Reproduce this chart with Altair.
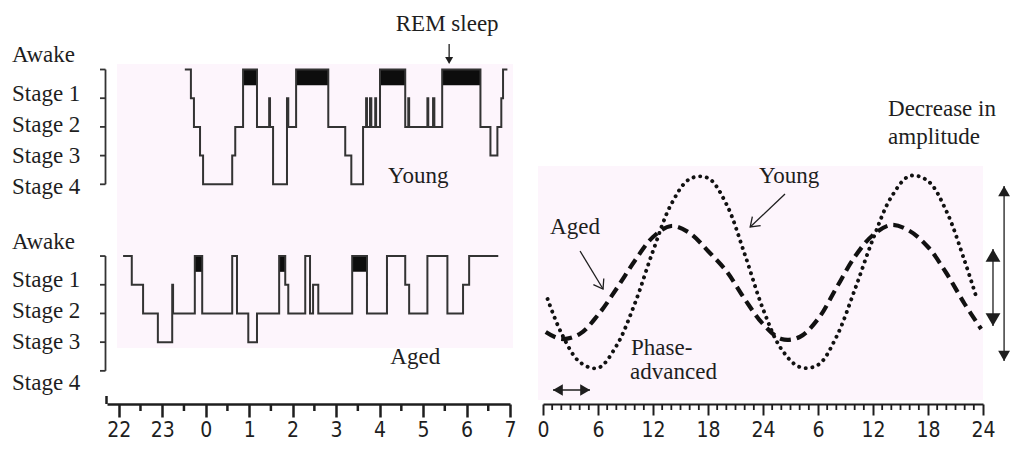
import altair as alt
import pandas as pd

SERIF = "Liberation Serif, Times New Roman, serif"
SANS = "Liberation Sans Narrow, Arial Narrow, DejaVu Sans Condensed, sans-serif"
INK = "#1e1e1e"
PINK = "#fdf5fc"

# ---------------- hypnograms: hours after midnight, stage 0 = Awake ... 4 = Stage 4
stage_names = ["Awake", "Stage 1", "Stage 2", "Stage 3", "Stage 4"]
stage_levels = [0, 1, 2, 3, 4]

young_t = [-0.48, -0.34, -0.27, -0.13, -0.06, 0.61, 0.68, 0.86, 1.18, 1.46, 1.48, 1.55,
           1.87, 1.90, 2.08, 2.82, 3.21, 3.35, 3.62, 3.69, 3.71, 3.78, 3.81, 3.90, 3.92,
           4.01, 4.59, 4.66, 4.68, 5.10, 5.12, 5.23, 5.26, 5.44, 6.32, 6.55, 6.71, 6.80,
           6.84, 6.94]
young_stage = [0, 1, 2, 3, 4, 3, 2, 0, 2, 1, 2, 4, 1, 2, 0, 2, 3, 4, 2, 1, 2, 1, 2, 1, 2,
               0, 2, 1, 2, 1, 2, 1, 2, 0, 2, 3, 2, 1, 0, 0]

aged_t = [-1.90, -1.70, -1.44, -1.10, -0.77, -0.75, -0.25, -0.08, 0.61, 0.72, 0.98, 1.18,
          1.69, 1.83, 1.90, 2.29, 2.40, 2.47, 2.59, 3.37, 3.71, 4.17, 4.59, 4.68, 5.10,
          5.56, 5.92, 6.06, 6.73]
aged_stage = [0, 1, 2, 3, 1, 2, 0, 2, 0, 2, 3, 2, 0, 1, 2, 0, 2, 1, 2, 0, 2, 0, 1, 2, 0,
              2, 1, 0, 0]

young_rem_start = [0.86, 2.08, 4.01, 5.44]
young_rem_end = [1.18, 2.82, 4.59, 6.32]
aged_rem_start = [-0.25, 1.69, 3.37]
aged_rem_end = [-0.08, 1.83, 3.71]

left_major_ticks = [-2, -1, 0, 1, 2, 3, 4, 5, 6, 7]
left_minor_ticks = [-1.5, -0.5, 0.5, 1.5, 2.5, 3.5, 4.5, 5.5, 6.5]

# ---------------- circadian rhythms: hours over two days, relative level
young_h = [0.5, 2, 4, 6, 8, 10, 12, 14, 16, 18, 20, 22, 24, 26, 28, 30, 32, 34, 36, 38,
           40, 42, 44, 46, 47.2]
young_v = [-0.25, -0.59, -0.88, -0.94, -0.72, -0.30, 0.23, 0.70, 0.95, 0.96, 0.70, 0.20,
           -0.35, -0.75, -0.93, -0.91, -0.63, -0.16, 0.35, 0.77, 0.98, 0.93, 0.63, 0.13,
           -0.21]
aged_h = [0.3, 2, 4, 6, 8, 10, 12, 14, 16, 18, 20, 22, 24, 26, 28, 30, 32, 34, 36, 38,
          40, 42, 44, 46, 47.8]
aged_v = [-0.58, -0.65, -0.60, -0.41, -0.15, 0.13, 0.37, 0.48, 0.41, 0.23, 0.03, -0.25,
          -0.50, -0.65, -0.63, -0.45, -0.14, 0.17, 0.39, 0.49, 0.43, 0.27, 0.01, -0.30,
          -0.55]

right_major_ticks = [0, 6, 12, 18, 24, 30, 36, 42, 48]
right_minor_ticks = [h for h in range(49) if h % 6 != 0]

# ---------------- tables
AGED_OFFSET = 6.5  # vertical offset of the aged hypnogram (in stage units)
H = 345

hyp = pd.concat([
    pd.DataFrame({"group": "Young", "t": young_t, "stage": young_stage,
                  "seq": list(range(len(young_t))), "off": 0.0}),
    pd.DataFrame({"group": "Aged", "t": aged_t, "stage": aged_stage,
                  "seq": list(range(len(aged_t))), "off": AGED_OFFSET}),
], ignore_index=True)
hyp["row"] = hyp["stage"] + hyp["off"]

rem = pd.concat([
    pd.DataFrame({"start": young_rem_start, "end": young_rem_end, "off": 0.0}),
    pd.DataFrame({"start": aged_rem_start, "end": aged_rem_end, "off": AGED_OFFSET}),
], ignore_index=True)
rem["top"] = rem["off"]
rem["bottom"] = rem["off"] + 0.55

levels = pd.concat([
    pd.DataFrame({"group": g, "label": stage_names, "stage": stage_levels, "off": o})
    for g, o in [("Young", 0.0), ("Aged", AGED_OFFSET)]
], ignore_index=True)
levels["row"] = levels["stage"] + levels["off"]
levels["label_row"] = [
    o + (-0.5 if s == 0 else s * 1.08 - 0.23) + (0.33 if (g == "Aged" and s == 4) else 0.0)
    for g, s, o in zip(levels["group"], levels["stage"], levels["off"])]
brackets = levels.groupby("group", as_index=False).agg(lo=("row", "min"), hi=("row", "max"))

minor_l = pd.DataFrame({"m": left_minor_ticks})
minor_r = pd.DataFrame({"m": right_minor_ticks})
young_df = pd.DataFrame({"h": young_h, "v": young_v})
aged_df = pd.DataFrame({"h": aged_h, "v": aged_v})

# ---------------- scales & axes (identical on every layer, so they merge cleanly)
XL = alt.Scale(domain=[-2.27, 7.0], nice=False, zero=False)
YL = alt.Scale(domain=[-0.366, 11.655], reverse=True, nice=False, zero=False)
XR = alt.Scale(domain=[0, 48], nice=False, zero=False)
YR = alt.Scale(domain=[-1.30, 2.15], nice=False, zero=False)

AXL = alt.Axis(values=left_major_ticks, orient="bottom",
               labelExpr="datum.value < 0 ? datum.value + 24 : datum.value",
               tickSize=13, tickWidth=2.5, tickColor=INK, domainColor=INK, domainWidth=2.5,
               labelFont=SANS, labelFontSize=21, labelColor=INK, labelPadding=2,
               labelFlush=False, labelOverlap=False, grid=False, title=None)
AXR = alt.Axis(values=right_major_ticks, orient="bottom",
               labelExpr="datum.value > 24 ? datum.value - 24 : datum.value",
               tickSize=11, tickWidth=2, tickColor=INK, domainColor=INK, domainWidth=2,
               labelFont=SANS, labelFontSize=21, labelColor=INK, labelPadding=4,
               labelFlush=False, labelOverlap=False, grid=False, title=None)

PANELS = {"L": (XL, YL, AXL), "R": (XR, YR, AXR)}


def enc_x(p, f):
    return alt.X(f, type="quantitative", scale=PANELS[p][0], axis=PANELS[p][2])


def enc_y(p, f):
    return alt.Y(f, type="quantitative", scale=PANELS[p][1], axis=None)


def text(p, t, x, y, align="center"):
    return alt.Chart(pd.DataFrame({"x": [x], "y": [y]})).mark_text(
        text=t, font=SERIF, fontSize=23, color=INK, align=align, baseline="middle"
    ).encode(x=enc_x(p, "x"), y=enc_y(p, "y"))


def rule(p, x, y, x2, y2, w=1.3):
    return alt.Chart(pd.DataFrame({"x": [x], "y": [y], "x2": [x2], "y2": [y2]})).mark_rule(
        color=INK, strokeWidth=w).encode(
        x=enc_x(p, "x"), y=enc_y(p, "y"), x2="x2:Q", y2="y2:Q")


def head(p, x, y, shape, size, xo=0, yo=0, angle=0, filled=True):
    return alt.Chart(pd.DataFrame({"x": [x], "y": [y]})).mark_point(
        shape=shape, size=size, filled=filled, opacity=1, color=INK, strokeWidth=1.3,
        angle=angle, xOffset=xo, yOffset=yo).encode(x=enc_x(p, "x"), y=enc_y(p, "y"))


def box(p, x, y, x2, y2, color):
    return alt.Chart(pd.DataFrame({"x": [x], "y": [y], "x2": [x2], "y2": [y2]})).mark_rect(
        color=color).encode(x=enc_x(p, "x"), y=enc_y(p, "y"), x2="x2:Q", y2="y2:Q")


# ---------------- left panel: hypnograms
rem_blocks = alt.Chart(rem).mark_rect(color="#0d0d0d").encode(
    x=enc_x("L", "start"), x2="end:Q", y=enc_y("L", "top"), y2="bottom:Q")

hyp_lines = alt.Chart(hyp).mark_line(interpolate="step-after", color="#333333",
                                     strokeWidth=2).encode(
    x=enc_x("L", "t"), y=enc_y("L", "row"), detail="group:N", order="seq:Q")

minor_ticks_l = alt.Chart(minor_l).mark_rule(color=INK, strokeWidth=2.5).encode(
    x=enc_x("L", "m"), y=alt.value(H), y2=alt.value(H + 7))

bracket_v = alt.Chart(brackets).mark_rule(color="#333333", strokeWidth=1.8).encode(
    x=alt.value(-1.5), y=enc_y("L", "lo"), y2="hi:Q")
bracket_t = alt.Chart(levels).mark_rule(color="#333333", strokeWidth=1.8).encode(
    x=alt.value(-7), x2=alt.value(-1.5), y=enc_y("L", "row"))
stage_text = alt.Chart(levels).mark_text(font=SERIF, fontSize=23, color=INK,
                                         align="left", baseline="middle").encode(
    x=alt.value(-95), y=enc_y("L", "label_row"), text="label:N")

cap = alt.Chart(pd.DataFrame({"k": [0]})).mark_rule(color=INK, strokeWidth=2.5).encode(
    x=alt.value(-0.5), y=alt.value(H - 8), y2=alt.value(H))

left = alt.layer(
    box("L", -2.04, -0.19, 7.07, 9.70, PINK),
    rem_blocks, hyp_lines, minor_ticks_l, bracket_v, bracket_t, stage_text, cap,
    text("L", "Young", 4.89, 3.71), text("L", "Aged", 4.82, 10.02),
    text("L", "REM sleep", 5.555, -1.585),
    rule("L", 5.60, -0.89, 5.60, -0.25, 1.3),
    head("L", 5.60, -0.19, "triangle-down", 64, yo=-3.5),
).properties(width=403, height=H)

# ---------------- right panel: circadian rhythms
young_line = alt.Chart(young_df).mark_line(
    interpolate="catmull-rom", color="#111111", strokeWidth=3.9,
    strokeDash=[0.1, 6.6], strokeCap="round").encode(
    x=enc_x("R", "h"), y=enc_y("R", "v"))
aged_line = alt.Chart(aged_df).mark_line(
    interpolate="catmull-rom", color="#111111", strokeWidth=4.2,
    strokeDash=[11, 6]).encode(
    x=enc_x("R", "h"), y=enc_y("R", "v"))

minor_ticks_r = alt.Chart(minor_r).mark_rule(color=INK, strokeWidth=1.8).encode(
    x=enc_x("R", "m"), y=alt.value(H), y2=alt.value(H + 6))

CHEV = "M-1,-0.7L0,0L-1,0.7"
right = alt.layer(
    box("R", -0.55, 1.08, 48.0, -1.26, PINK),
    aged_line, young_line, minor_ticks_r,
    text("R", "Young", 26.84, 0.98), text("R", "Aged", 3.49, 0.47),
    text("R", "Phase-", 9.6, -0.74, "left"), text("R", "advanced", 9.5, -0.98, "left"),
    text("R", "Decrease in", 37.64, 1.65, "left"), text("R", "amplitude", 37.64, 1.37, "left"),
    rule("R", 26.4, 0.80, 22.6, 0.47),
    head("R", 22.6, 0.47, CHEV, 300, angle=137, filled=False),
    rule("R", 4.04, 0.23, 6.55, -0.15),
    head("R", 6.55, -0.15, CHEV, 300, angle=59, filled=False),
    rule("R", 50.3, 0.88, 50.3, -0.87),
    head("R", 50.3, 0.88, "triangle-up", 140, yo=5.1),
    head("R", 50.3, -0.87, "triangle-down", 140, yo=-5.1),
    rule("R", 49.09, 0.25, 49.09, -0.52),
    head("R", 49.09, 0.25, "triangle-up", 220, yo=6.4),
    head("R", 49.09, -0.52, "triangle-down", 220, yo=-6.4),
    rule("R", 1.09, -1.16, 5.13, -1.16, 1.6),
    head("R", 1.09, -1.16, "triangle-left", 130, xo=4.9),
    head("R", 5.13, -1.16, "triangle-right", 130, xo=-4.9),
).properties(width=440, height=H)

chart = alt.hconcat(left, right, spacing=19).properties(
    padding={"left": 4, "top": 5, "right": 0, "bottom": 0}
).configure_view(stroke=None)

chart.save("out.html", embed_options={"renderer": "svg", "actions": False})
